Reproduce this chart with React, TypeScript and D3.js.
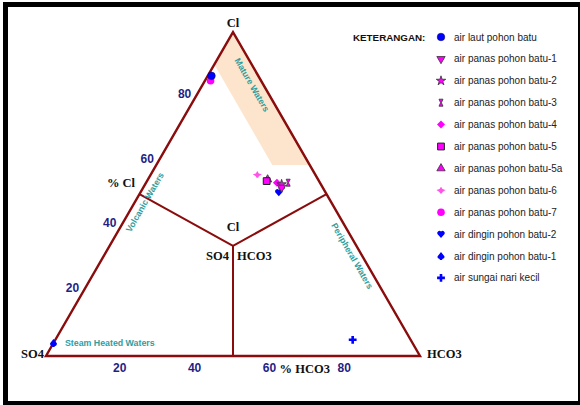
import React from 'react';
import * as d3 from 'd3';

const W = 580;
const H = 405;

// ---- data (percentages) ----
const seriesNames = [
  'air laut pohon batu',
  'air panas pohon batu-1',
  'air panas pohon batu-2',
  'air panas pohon batu-3',
  'air panas pohon batu-4',
  'air panas pohon batu-5',
  'air panas pohon batu-5a',
  'air panas pohon batu-6',
  'air panas pohon batu-7',
  'air dingin pohon batu-2',
  'air dingin pohon batu-1',
  'air sungai nari kecil',
];
const clPct = [86.5, 52, 53, 53.5, 53.5, 54, 54.5, 56, 85, 50.5, 4, 5];
const hco3Pct = [1, 37, 36.5, 38, 35, 32, 32, 28.5, 1.5, 37, 0, 79.5];
const so4Pct = [12.5, 11, 10.5, 8.5, 11.5, 14, 13.5, 15.5, 13.5, 12.5, 96, 15.5];
const markerKinds = ['circle', 'invtri', 'star', 'hourglass', 'diamond', 'square', 'triangle', 'leaf', 'circleM', 'heart', 'spade', 'cross'];

const tickValues = [20, 40, 60, 80];

// field boundaries [Cl, HCO3] in %
const matureWaters = [[100, 0], [90, 0], [59, 31], [59, 41]];
const innerCenter = [34, 33];
const innerEnds = [[50, 0], [50, 50], [0, 50]];

// ---- geometry ----
const X0 = 46, X1 = 420, Y0 = 356;
const side = X1 - X0;
const hx = d3.scaleLinear().domain([0, 100]).range([X0, X1]);
const cy = d3.scaleLinear().domain([0, 100]).range([Y0, Y0 - side * Math.sqrt(3) / 2]);
const project = (cl: number, hco3: number): [number, number] => [hx(hco3 + cl / 2), cy(cl)];

const DARK_RED = '#8a0c0c';
const NAVY = '#1f1f85';
const TEAL = '#2f9e9e';
const SERIF = '"Liberation Serif", "Times New Roman", serif';
const SANS = '"Liberation Sans", Arial, sans-serif';
const MAG = '#ff00ff';
const BLUE = '#0000ff';

function Marker({ kind, x, y }: { kind: string; x: number; y: number }) {
  const t = `translate(${x},${y})`;
  const sym = (type: d3.SymbolType, size: number) => d3.symbol().type(type).size(size)() as string;
  switch (kind) {
    case 'circle':
      return <circle cx={x} cy={y} r={3.8} fill={BLUE} stroke="#000060" strokeWidth={0.5} />;
    case 'circleM':
      return <circle cx={x} cy={y} r={3.8} fill={MAG} />;
    case 'invtri':
      return <path transform={`${t} rotate(180)`} d={sym(d3.symbolTriangle, 30)} fill={MAG} stroke="#333" strokeWidth={0.8} />;
    case 'triangle':
      return <path transform={t} d={sym(d3.symbolTriangle, 30)} fill={MAG} stroke="#333" strokeWidth={0.8} />;
    case 'star':
      return <path transform={t} d={sym(d3.symbolStar, 28)} fill={MAG} stroke="#333" strokeWidth={0.8} />;
    case 'square':
      return <path transform={t} d={sym(d3.symbolSquare, 46)} fill={MAG} stroke="#222" strokeWidth={1} />;
    case 'diamond':
      return <path transform={`${t} rotate(45)`} d={sym(d3.symbolSquare, 32)} fill={MAG} />;
    case 'hourglass':
      return <path transform={t} d="M-2,-3.5 L2,-3.5 L0.4,0 L2,3.5 L-2,3.5 L-0.4,0 Z" fill={MAG} stroke="#333" strokeWidth={0.8} />;
    case 'leaf':
      return <path transform={t} d="M-4.5,-0.3 L-1.5,-1.2 L0,-3.5 L1.5,-1.2 L4.5,-0.3 L1.6,1.6 L0.8,3.2 L-0.8,3.2 L-1.6,1.6 Z" fill="#ff55e6" />;
    case 'heart':
      return <path transform={t} d="M0,3.8 L-3.6,-0.2 A2.2,2.2 0 0 1 0,-2.6 A2.2,2.2 0 0 1 3.6,-0.2 Z" fill={BLUE} />;
    case 'spade':
      return <path transform={t} d="M0,-4 L-3.4,0.3 A2.1,2.1 0 0 0 0,2.4 A2.1,2.1 0 0 0 3.4,0.3 Z M0,1.2 L-1.5,4 L1.5,4 Z" fill={BLUE} />;
    case 'cross':
      return <path transform={t} d={sym(d3.symbolCross, 34)} fill={BLUE} />;
    default:
      return null;
  }
}

export default function App() {
  const apex = project(100, 0);
  const left = project(0, 0);
  const right = project(0, 100);
  const tri = [apex, left, right];
  const line = d3.line();
  const center = project(innerCenter[0], innerCenter[1]);

  const order = d3.range(seriesNames.length).reverse();

  const matureC = project(83.7, 13.2);
  const volcC = project(47.5, 2.7);
  const periC = project(30.9, 66.4);
  const legendY = (i: number) => 37 + i * 21.9;

  return (
    <svg width={W} height={H} style={{ position: 'absolute', left: 0, top: 0, background: '#fff' }}>
      <rect x={5.5} y={4.5} width={575} height={399} fill="#fff" stroke="#000" strokeWidth={5} />

      {/* mature waters field */}
      <path d={line(matureWaters.map(([c, h]) => project(c, h)) as [number, number][]) + 'Z'} fill="#fde5cd" />

      {/* triangle */}
      <path d={line(tri as [number, number][]) + 'Z'} fill="none" stroke={DARK_RED} strokeWidth={2.4} strokeLinejoin="miter" />
      {innerEnds.map(([c, h], i) => (
        <path key={i} d={line([project(c, h), center]) as string} stroke={DARK_RED} strokeWidth={2} fill="none" />
      ))}

      {/* vertex labels */}
      <g fontFamily={SERIF} fontWeight="bold" fontSize={12.5} fill="#111">
        <text x={apex[0]} y={apex[1] - 5} textAnchor="middle">Cl</text>
        <text x={left[0] - 2} y={left[1] + 2} textAnchor="end">SO4</text>
        <text x={right[0] + 7} y={right[1] + 2}>HCO3</text>
        <text x={center[0]} y={center[1] - 15} textAnchor="middle">Cl</text>
        <text x={center[0] - 4} y={center[1] + 14} textAnchor="end">SO4</text>
        <text x={center[0] + 4} y={center[1] + 14}>HCO3</text>
        <text x={project(50, 0)[0] - 4.5} y={project(50, 0)[1] - 7} textAnchor="end">% Cl</text>
        <text x={project(0, 70)[0] - 3} y={project(0, 70)[1] + 17} textAnchor="middle">% HCO3</text>
      </g>

      {/* tick labels */}
      <g fontFamily={SANS} fontWeight="bold" fontSize={12} fill={NAVY} textAnchor="middle">
        {tickValues.map((v) => {
          const [x, y] = project(0, v);
          return <text key={'b' + v} x={x - 1} y={y + 16}>{v}</text>;
        })}
        {tickValues.map((v) => {
          const [x, y] = project(v, 0);
          return <text key={'l' + v} x={x - 11} y={y + 1}>{v}</text>;
        })}
      </g>

      {/* field names */}
      <g fontFamily={SANS} fontWeight="bold" fontSize={8.8} fill={TEAL}>
        <text x={left[0] + 19} y={left[1] - 10}>Steam Heated Waters</text>
        <text transform={`translate(${matureC[0]},${matureC[1]}) rotate(60)`} textAnchor="middle" dominantBaseline="central">Mature Waters</text>
        <text transform={`translate(${volcC[0]},${volcC[1]}) rotate(-60)`} textAnchor="middle" dominantBaseline="central">Volcanic Waters</text>
        <text transform={`translate(${periC[0]},${periC[1]}) rotate(60)`} textAnchor="middle" dominantBaseline="central">Peripheral Waters</text>
      </g>

      {/* data points */}
      {order.map((i) => {
        const tot = clPct[i] + hco3Pct[i] + so4Pct[i];
        const [x, y] = project((clPct[i] / tot) * 100, (hco3Pct[i] / tot) * 100);
        return <Marker key={i} kind={markerKinds[i]} x={x} y={y} />;
      })}

      {/* legend */}
      <text x={353} y={41} fontFamily={SANS} fontWeight="bold" fontSize={9.8} fill="#111">KETERANGAN:</text>
      {seriesNames.map((name, i) => (
        <g key={name}>
          <Marker kind={markerKinds[i]} x={441} y={legendY(i)} />
          <text x={454} y={legendY(i) + 3.5} fontFamily={SANS} fontSize={10} fill="#222">{name}</text>
        </g>
      ))}
    </svg>
  );
}
